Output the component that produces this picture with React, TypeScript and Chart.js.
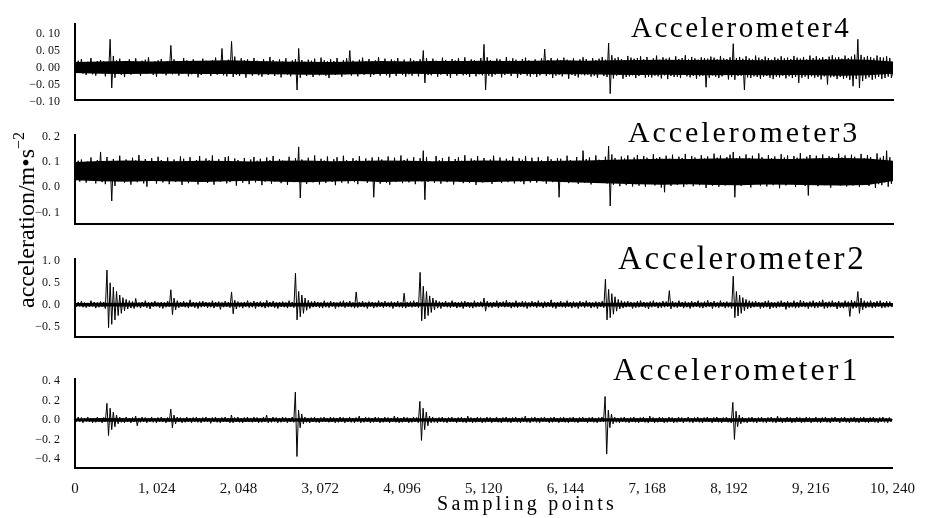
import React, { useEffect, useRef } from "react";
import { Chart, registerables } from "chart.js";

Chart.register(...registerables);

// ---- data ----
// Traces are read every 20 sampling points (alternating crest / trough of the band);
// the dense black core of each band is read every 320 sampling points (upper / lower edge).
const SAMPLE_STEP = 20;
const CORE_STEP = 320;

const xTicks = [0, 1024, 2048, 3072, 4096, 5120, 6144, 7168, 8192, 9216, 10240];
const xTickLabels = ["0", "1, 024", "2, 048", "3, 072", "4, 096", "5, 120", "6, 144", "7, 168", "8, 192", "9, 216", "10, 240"];

const seriesNames = ["Accelerometer4", "Accelerometer3", "Accelerometer2", "Accelerometer1"];

const acc4 = [
  .008,-.014,.020,-.012,.025,-.018,.015,-.022,.017,-.011,.028,-.020,.013,-.024,.019,-.016,
  .022,-.013,.018,-.026,.014,-.019,.083,-.060,.034,-.030,.021,-.017,.026,-.022,.015,-.028,
  .019,-.015,.024,-.021,.012,-.018,.027,-.014,.016,-.025,.020,-.012,.023,-.019,.030,-.016,
  .014,-.022,.018,-.027,.021,-.013,.025,-.018,.016,-.023,.019,-.015,.065,-.020,.024,-.017,
  .018,-.024,.013,-.019,.028,-.016,.021,-.026,.015,-.020,.024,-.013,.019,-.029,.017,-.022,
  .026,-.015,.020,-.018,.014,-.025,.022,-.017,.029,-.021,.016,-.014,.056,-.023,.019,-.026,
  .023,-.018,.077,-.028,.032,-.022,.018,-.025,.027,-.016,.021,-.030,.024,-.019,.015,-.024,
  .028,-.017,.020,-.023,.016,-.027,.025,-.014,.019,-.022,.031,-.018,.022,-.025,.017,-.020,
  .024,-.029,.018,-.016,.027,-.021,.014,-.026,.021,-.018,.025,-.066,.056,-.030,.022,-.019,
  .017,-.025,.023,-.014,.020,-.028,.026,-.019,.015,-.023,.029,-.017,.021,-.024,.018,-.031,
  .024,-.016,.019,-.022,.028,-.018,.016,-.027,.022,-.020,.027,-.015,.050,-.024,.020,-.018,
  .015,-.026,.023,-.019,.029,-.021,.018,-.014,.025,-.028,.017,-.022,.021,-.017,.030,-.024,
  .019,-.016,.026,-.023,.014,-.029,.024,-.018,.020,-.025,.028,-.015,.017,-.022,.023,-.027,
  .016,-.020,.027,-.024,.021,-.016,.018,-.026,.024,-.019,.050,-.045,.028,-.022,.019,-.023,
  .026,-.018,.020,-.027,.015,-.021,.029,-.017,.022,-.025,.018,-.030,.025,-.016,.021,-.024,
  .027,-.019,.017,-.023,.030,-.022,.019,-.028,.024,-.017,.021,-.026,.016,-.020,.028,-.023,
  .068,-.066,.030,-.024,.022,-.027,.019,-.021,.026,-.018,.024,-.029,.017,-.022,.031,-.019,
  .020,-.025,.027,-.016,.023,-.030,.018,-.022,.025,-.019,.029,-.024,.021,-.027,.016,-.020,
  .024,-.028,.019,-.023,.027,-.017,.054,-.025,.022,-.020,.028,-.031,.018,-.024,.026,-.021,
  .021,-.026,.029,-.018,.023,-.033,.020,-.022,.027,-.025,.017,-.029,.024,-.020,.030,-.023,
  .025,-.021,.019,-.027,.028,-.024,.022,-.030,.026,-.019,.031,-.025,.023,-.028,.072,-.077,
  .036,-.032,.027,-.024,.030,-.021,.025,-.033,.022,-.028,.034,-.026,.029,-.023,.026,-.031,
  .028,-.025,.033,-.022,.024,-.030,.031,-.027,.021,-.029,.027,-.024,.035,-.026,.023,-.032,
  .030,-.023,.026,-.034,.029,-.025,.022,-.028,.033,-.027,.025,-.031,.028,-.022,.036,-.026,
  .024,-.029,.031,-.025,.027,-.033,.023,-.026,.030,-.024,.028,-.058,.026,-.030,.032,-.023,
  .029,-.027,.024,-.031,.034,-.026,.027,-.022,.025,-.035,.030,-.028,.070,-.036,.028,-.025,
  .031,-.024,.026,-.066,.033,-.029,.027,-.031,.024,-.026,.035,-.028,.029,-.033,.025,-.027,
  .032,-.025,.028,-.030,.023,-.034,.030,-.027,.026,-.029,.033,-.024,.027,-.032,.029,-.026,
  .025,-.031,.034,-.028,.029,-.045,.026,-.030,.031,-.027,.024,-.033,.035,-.026,.028,-.030,
  .033,-.028,.027,-.035,.030,-.026,.025,-.050,.032,-.029,.036,-.027,.029,-.034,.031,-.028,
  .026,-.033,.035,-.030,.028,-.036,.032,-.055,.038,-.034,.083,-.060,.037,-.040,.030,-.033,
  .034,-.029,.031,-.036,.027,-.032,.035,-.028,.030,-.034,.029,-.031,.033,-.027,.028,-.030,
  -.012,
];
const acc4CoreHi = [
  .016,.018,.019,.018,.019,.020,.021,.019,.018,.017,.016,.018,.019,.018,.019,.019,.020,
  .019,.020,.021,.020,.021,.022,.023,.022,.023,.022,.021,.022,.023,.024,.023,.018,
];
const acc4CoreLo = [
  -.016,-.018,-.019,-.018,-.018,-.019,-.019,-.020,-.020,-.021,-.021,-.020,-.019,-.018,-.019,-.019,-.019,
  -.018,-.019,-.020,-.020,-.021,-.022,-.021,-.022,-.023,-.022,-.023,-.022,-.023,-.024,-.023,-.018,
];

const acc3 = [
  .098,.030,.105,.022,.110,.035,.096,.018,.102,.028,.118,.026,.092,.015,.108,.032,
  .140,.020,.095,.012,.120,.028,.100,-.055,.112,.005,.104,.024,.125,.030,.098,.018,
  .110,.034,.093,.010,.117,.027,.106,.020,.128,.031,.099,.015,.112,.002,.103,.025,
  .115,.033,.097,.014,.121,.029,.108,.019,.100,.035,.118,.012,.095,.026,.110,.021,
  .104,.030,.122,.009,.113,.028,.101,.016,.119,.024,.097,.034,.108,.011,.124,.022,
  .096,.027,.114,.017,.107,.025,.126,.010,.098,.029,.111,.021,.104,.035,.119,.015,
  .123,.020,.096,.027,.114,.006,.108,.030,.101,.018,.116,.024,.097,.012,.110,.032,
  .120,.019,.105,.026,.113,.008,.099,.022,.118,.030,.107,.014,.124,.022,.095,.028,
  .112,.016,.106,.031,.098,.009,.121,.025,.103,.020,.115,.027,.160,-.043,.110,.024,
  .099,.013,.117,.028,.104,.019,.126,.023,.100,.011,.113,.030,.106,.017,.122,.026,
  .097,.021,.111,.008,.119,.027,.102,.018,.125,.024,.108,.015,.096,.033,.115,.020,
  .107,.012,.123,.026,.099,.031,.114,.017,.105,.025,.118,-.040,.101,.022,.120,.014,
  .110,.029,.096,.018,.122,.010,.104,.027,.117,.021,.099,.033,.126,.016,.108,.024,
  .113,.019,.101,.028,.119,.012,.097,.025,.115,.023,.145,-.050,.120,.021,.103,.030,
  .098,.017,.124,.026,.107,.014,.116,.031,.100,.020,.121,.024,.096,.011,.112,.028,
  .119,.022,.105,.016,.127,.029,.099,.018,.114,.025,.108,.009,.123,.027,.101,.019,
  .116,.024,.097,.030,.110,.013,.125,.021,.103,.028,.118,.017,.099,.033,.113,.020,
  .106,.026,.121,.015,.098,.029,.115,.022,.109,.012,.124,.027,.100,.019,.117,.025,
  .102,.018,.119,.031,.107,.023,.096,.014,.122,.026,.111,.020,.104,.029,.116,-.040,
  .113,.021,.100,.027,.125,.016,.108,.024,.097,.030,.120,.013,.105,.022,.145,.018,
  .112,.025,.118,.011,.103,.028,.126,.017,.109,.022,.099,.031,.121,.015,.163,-.075,
  .130,.010,.116,.020,.108,.004,.122,.018,.114,.008,.126,.022,.104,.003,.118,.012,
  .128,.006,.111,.019,.124,.002,.117,.014,.106,.021,.131,.007,.115,.016,.120,-.002,
  .109,-.020,.125,.013,.113,.005,.129,.017,.107,.009,.121,.023,.116,.001,.132,.011,
  .110,.015,.124,.004,.118,.020,.105,.008,.127,.012,.114,-.003,.122,.018,.108,.006,
  .133,.014,.117,.002,.126,.019,.110,.007,.120,.011,.129,.016,.140,-.040,.115,.010,
  .123,.005,.112,.021,.130,.009,.116,-.001,.125,.013,.108,.018,.134,.006,.119,.015,
  .111,.003,.127,.017,.115,.008,.122,.020,.106,-.004,.131,.012,.118,.007,.126,.014,
  .109,.019,.124,.001,.117,.010,.135,.016,.113,.005,.121,-.033,.128,.011,.107,.022,
  .125,.004,.116,.013,.130,.008,.112,.018,.123,-.002,.119,.015,.110,.009,.133,.006,
  .118,.020,.126,.003,.114,.011,.129,.007,.121,.017,.108,.001,.132,.014,.115,.010,
  .127,.005,.120,.016,.111,-.003,.134,.012,.117,.008,.124,.019,.145,.002,.119,.013,
  .060,
];
const acc3CoreHi = [
  .100,.104,.106,.104,.103,.105,.104,.102,.105,.106,.103,.104,.106,.105,.103,.104,.106,
  .105,.103,.105,.106,.109,.111,.113,.112,.114,.115,.113,.112,.115,.116,.114,.105,
];
const acc3CoreLo = [
  .028,.024,.022,.025,.023,.021,.024,.026,.022,.020,.023,.025,.021,.023,.024,.022,.020,
  .023,.025,.021,.018,.015,.012,.010,.012,.009,.008,.011,.010,.008,.007,.009,.025,
];

const acc2 = [
  .02,-.05,.06,-.04,.08,-.06,.05,-.07,.04,-.05,.09,-.04,.06,-.08,.05,-.06,
  .07,-.05,.06,-.09,.79,-.53,.50,-.45,.40,-.35,.30,-.25,.22,-.20,.16,-.14,
  .12,-.10,.09,-.08,.07,-.09,.14,-.06,.05,-.08,.06,-.05,.09,-.07,.05,-.10,
  .06,-.05,.08,-.04,.05,-.07,.06,-.09,.05,-.06,.08,-.05,.34,-.23,.15,-.12,
  .09,-.07,.06,-.05,.08,-.06,.05,-.08,.11,-.05,.06,-.07,.05,-.09,.07,-.06,
  .08,-.05,.06,-.07,.05,-.06,.09,-.08,.06,-.05,.07,-.11,.05,-.06,.08,-.05,
  .06,-.07,.29,-.21,.10,-.10,.07,-.06,.05,-.08,.06,-.05,.09,-.07,.05,-.06,
  .08,-.09,.06,-.05,.07,-.06,.05,-.08,.10,-.06,.06,-.05,.08,-.07,.05,-.09,
  .06,-.05,.07,-.06,.05,-.08,.09,-.05,.06,-.07,.72,-.35,.30,-.28,.22,-.20,
  .15,-.13,.10,-.09,.07,-.06,.08,-.05,.06,-.07,.05,-.08,.09,-.06,.05,-.07,
  .08,-.05,.06,-.09,.05,-.06,.07,-.05,.09,-.07,.06,-.05,.08,-.06,.05,-.08,
  .29,-.07,.06,-.05,.08,-.06,.05,-.09,.07,-.05,.06,-.08,.05,-.06,.09,-.05,
  .06,-.07,.08,-.05,.05,-.06,.07,-.09,.06,-.05,.08,-.06,.05,-.07,.26,-.08,
  .06,-.05,.07,-.06,.09,-.05,.06,-.07,.74,-.37,.42,-.33,.30,-.25,.20,-.18,
  .15,-.12,.10,-.08,.07,-.09,.06,-.05,.08,-.06,.05,-.07,.09,-.05,.06,-.08,
  .05,-.06,.07,-.09,.08,-.05,.06,-.07,.05,-.08,.09,-.06,.06,-.05,.07,-.06,
  .15,-.15,.08,-.06,.05,-.07,.06,-.05,.09,-.08,.06,-.05,.07,-.06,.10,-.05,
  .06,-.08,.05,-.06,.09,-.07,.05,-.05,.08,-.06,.07,-.09,.05,-.06,.08,-.05,
  .06,-.07,.09,-.05,.05,-.08,.07,-.06,.06,-.05,.11,-.07,.05,-.09,.06,-.05,
  .08,-.06,.05,-.07,.09,-.05,.06,-.08,.07,-.06,.05,-.09,.08,-.05,.06,-.07,
  .09,-.05,.06,-.08,.05,-.06,.07,-.09,.06,-.05,.08,-.07,.58,-.35,.35,-.30,
  .25,-.22,.18,-.15,.12,-.10,.09,-.08,.07,-.06,.08,-.05,.06,-.09,.05,-.07,
  .08,-.06,.09,-.05,.06,-.07,.05,-.10,.07,-.06,.09,-.05,.06,-.08,.05,-.07,
  .08,-.06,.07,-.05,.32,-.10,.08,-.06,.05,-.07,.09,-.05,.06,-.08,.07,-.06,
  .05,-.09,.08,-.06,.06,-.05,.09,-.07,.05,-.08,.07,-.06,.10,-.05,.06,-.09,
  .08,-.06,.05,-.07,.09,-.05,.06,-.08,.07,-.06,.05,-.09,.65,-.30,.30,-.26,
  .22,-.20,.16,-.14,.12,-.10,.09,-.08,.07,-.06,.08,-.05,.06,-.09,.05,-.07,
  .08,-.06,.09,-.10,.06,-.07,.05,-.08,.07,-.06,.09,-.05,.06,-.11,.08,-.07,
  .05,-.06,.09,-.08,.06,-.07,.10,-.05,.08,-.06,.05,-.09,.07,-.06,.09,-.08,
  .06,-.07,.08,-.05,.11,-.09,.06,-.08,.07,-.06,.09,-.05,.06,-.10,.08,-.07,
  .05,-.08,.09,-.06,.07,-.27,.10,-.09,.08,-.07,.30,-.20,.15,-.12,.09,-.08,
  .07,-.06,.09,-.08,.06,-.07,.08,-.05,.09,-.08,.06,-.07,.08,-.06,.07,-.05,
  -.03,
];
const acc2CoreHi = [
  .035,.045,.045,.040,.045,.040,.045,.040,.045,.045,.040,.045,.040,.045,.040,.045,.040,
  .045,.040,.045,.040,.045,.045,.040,.045,.040,.045,.045,.045,.040,.045,.045,.035,
];
const acc2CoreLo = [
  -.035,-.045,-.045,-.040,-.045,-.040,-.045,-.040,-.045,-.045,-.040,-.045,-.040,-.045,-.040,-.045,-.040,
  -.045,-.040,-.045,-.040,-.045,-.045,-.040,-.045,-.040,-.045,-.045,-.045,-.040,-.045,-.045,-.035,
];

const acc1 = [
  .010,-.020,.030,-.020,.025,-.030,.020,-.015,.030,-.020,.020,-.030,.015,-.025,.030,-.020,
  .020,-.030,.025,-.020,.170,-.160,.120,-.100,.080,-.070,.050,-.040,.030,-.025,.020,-.030,
  .030,-.020,.020,-.030,.025,-.020,.040,-.060,.020,-.025,.030,-.020,.025,-.030,.020,-.020,
  .030,-.025,.020,-.030,.025,-.020,.030,-.020,.020,-.030,.025,-.020,.110,-.080,.050,-.040,
  .030,-.020,.025,-.030,.020,-.025,.030,-.020,.020,-.030,.025,-.020,.030,-.025,.020,-.030,
  .025,-.020,.030,-.020,.020,-.035,.025,-.020,.030,-.025,.020,-.030,.025,-.020,.030,-.020,
  .020,-.030,.050,-.030,.025,-.020,.030,-.025,.020,-.030,.025,-.020,.030,-.020,.020,-.025,
  .030,-.020,.025,-.030,.020,-.025,.030,-.020,.050,-.030,.020,-.025,.030,-.020,.025,-.030,
  .020,-.025,.030,-.020,.025,-.030,.020,-.020,.030,-.025,.285,-.375,.100,-.080,.060,-.040,
  .030,-.025,.020,-.030,.025,-.020,.030,-.025,.020,-.030,.025,-.020,.030,-.020,.020,-.025,
  .030,-.020,.025,-.030,.020,-.025,.030,-.020,.025,-.030,.020,-.020,.030,-.025,.020,-.030,
  .025,-.020,.040,-.030,.020,-.025,.030,-.020,.025,-.030,.020,-.025,.030,-.020,.025,-.030,
  .020,-.025,.030,-.020,.025,-.030,.020,-.020,.040,-.025,.030,-.030,.020,-.025,.030,-.020,
  .025,-.030,.020,-.025,.030,-.020,.025,-.030,.190,-.210,.120,-.100,.080,-.060,.040,-.030,
  .030,-.025,.020,-.030,.025,-.020,.030,-.025,.020,-.030,.025,-.020,.030,-.020,.020,-.030,
  .025,-.020,.030,-.025,.020,-.030,.040,-.020,.025,-.030,.020,-.025,.030,-.020,.025,-.030,
  .020,-.025,.030,-.020,.025,-.030,.020,-.020,.030,-.025,.020,-.030,.025,-.020,.030,-.025,
  .020,-.030,.025,-.020,.030,-.025,.020,-.030,.025,-.020,.040,-.025,.020,-.030,.025,-.020,
  .030,-.025,.020,-.030,.025,-.020,.030,-.020,.020,-.030,.025,-.025,.030,-.020,.020,-.030,
  .025,-.020,.030,-.025,.020,-.030,.025,-.020,.030,-.025,.020,-.030,.025,-.020,.030,-.020,
  .020,-.030,.025,-.020,.030,-.025,.020,-.030,.025,-.020,.030,-.020,.240,-.350,.100,-.080,
  .060,-.040,.030,-.025,.020,-.030,.025,-.020,.030,-.025,.020,-.030,.025,-.020,.030,-.025,
  .020,-.030,.025,-.020,.030,-.025,.020,-.030,.040,-.020,.025,-.030,.020,-.025,.030,-.020,
  .025,-.030,.020,-.025,.030,-.020,.025,-.030,.020,-.025,.030,-.020,.025,-.030,.020,-.020,
  .030,-.025,.020,-.030,.025,-.020,.030,-.025,.020,-.030,.025,-.020,.030,-.020,.020,-.030,
  .025,-.020,.030,-.025,.020,-.030,.025,-.020,.030,-.025,.020,-.030,.180,-.200,.090,-.070,
  .050,-.040,.030,-.025,.020,-.030,.025,-.020,.030,-.025,.020,-.030,.025,-.020,.030,-.025,
  .020,-.030,.025,-.020,.030,-.025,.020,-.030,.040,-.020,.025,-.030,.020,-.025,.030,-.020,
  .025,-.030,.020,-.025,.030,-.020,.025,-.030,.020,-.025,.030,-.020,.025,-.030,.020,-.020,
  .030,-.025,.020,-.030,.025,-.020,.030,-.025,.020,-.030,.025,-.020,.030,-.020,.020,-.030,
  .025,-.020,.030,-.025,.020,-.030,.025,-.020,.030,-.025,.020,-.030,.025,-.020,.030,-.025,
  .020,-.030,.025,-.020,.030,-.025,.020,-.030,.025,-.020,.030,-.025,.020,-.030,.025,-.020,
  .010,
];
const acc1CoreHi = [
  .014,.019,.018,.017,.018,.017,.018,.018,.017,.018,.018,.017,.018,.018,.017,.018,.018,
  .018,.017,.018,.018,.017,.018,.018,.017,.018,.018,.017,.018,.018,.017,.018,.014,
];
const acc1CoreLo = [
  -.014,-.019,-.018,-.017,-.018,-.017,-.018,-.018,-.017,-.018,-.018,-.017,-.018,-.018,-.017,-.018,-.018,
  -.018,-.017,-.018,-.018,-.017,-.018,-.018,-.017,-.018,-.018,-.017,-.018,-.018,-.017,-.018,-.014,
];

// y-axis ticks and labels per panel
const acc4Ticks = [-0.1, -0.05, 0, 0.05, 0.1];
const acc4TickLabels = ["\u22120. 10", "\u22120. 05", "0. 00", "0. 05", "0. 10"];
const acc3Ticks = [-0.1, 0, 0.1, 0.2];
const acc3TickLabels = ["\u22120. 1", "0. 0", "0. 1", "0. 2"];
const acc2Ticks = [-0.5, 0, 0.5, 1.0];
const acc2TickLabels = ["\u22120. 5", "0. 0", "0. 5", "1. 0"];
const acc1Ticks = [-0.4, -0.2, 0, 0.2, 0.4];
const acc1TickLabels = ["\u22120. 4", "\u22120. 2", "0. 0", "0. 2", "0. 4"];

// axis limits per panel
const acc4Range = [-0.0949, 0.1273];
const acc3Range = [-0.1455, 0.2065];
const acc2Range = [-0.737, 1.04];
const acc1Range = [-0.493, 0.4175];

const X_MAX = 10240;

const FONT = "'Liberation Serif', 'Times New Roman', serif";
const PAD = 10;

type PanelProps = {
  values: number[];
  coreHi: number[];
  coreLo: number[];
  range: number[];
  ticks: number[];
  tickLabels: string[];
  areaTop: number;
  areaBottom: number;
  showX: boolean;
};

function Panel({ values, coreHi, coreLo, range, ticks, tickLabels, areaTop, areaBottom, showX }: PanelProps) {
  const ref = useRef<HTMLCanvasElement | null>(null);
  const xH = showX ? 40 : 0;
  const height = areaBottom - areaTop + PAD + (showX ? xH : PAD);
  useEffect(() => {
    const canvas = ref.current;
    if (!canvas) return;
    const chart = new Chart(canvas, {
      type: "line",
      data: {
        datasets: [
          {
            label: "trace",
            data: values.map((v, i) => ({ x: i * SAMPLE_STEP, y: v })),
            borderColor: "#000",
            borderWidth: 1,
            pointRadius: 0,
            tension: 0,
            fill: false,
            order: 0,
          },
          {
            label: "core low",
            data: coreLo.map((v, i) => ({ x: i * CORE_STEP, y: v })),
            borderColor: "rgba(0,0,0,0)",
            borderWidth: 0,
            pointRadius: 0,
            tension: 0,
            fill: false,
            order: 2,
          },
          {
            label: "core high",
            data: coreHi.map((v, i) => ({ x: i * CORE_STEP, y: v })),
            borderColor: "rgba(0,0,0,0)",
            backgroundColor: "#000",
            borderWidth: 0,
            pointRadius: 0,
            tension: 0,
            fill: "-1",
            order: 1,
          },
        ],
      },
      options: {
        animation: false,
        responsive: false,
        devicePixelRatio: 1,
        events: [],
        plugins: { legend: { display: false }, tooltip: { enabled: false } },
        layout: { padding: { top: PAD, bottom: showX ? 0 : PAD, left: 0, right: 34 } },
        scales: {
          x: {
            type: "linear",
            min: 0,
            max: X_MAX,
            grid: { display: false, drawTicks: false },
            border: { display: true, color: "#000", width: 2 },
            ticks: {
              display: showX,
              padding: 12,
              color: "#111",
              maxRotation: 0,
              autoSkip: false,
              font: { family: FONT, size: 15 },
              callback: (_v: any, i: number) => xTickLabels[i],
            },
            afterBuildTicks: (s: any) => {
              s.ticks = xTicks.map((v) => ({ value: v }));
            },
            afterFit: (s: any) => {
              s.height = xH;
            },
          },
          y: {
            type: "linear",
            min: range[0],
            max: range[1],
            grid: { display: false, drawTicks: false },
            border: { display: true, color: "#000", width: 2 },
            ticks: {
              padding: 15,
              color: "#111",
              font: { family: FONT, size: 12 },
              callback: (_v: any, i: number) => tickLabels[i],
            },
            afterBuildTicks: (s: any) => {
              s.ticks = ticks.map((v) => ({ value: v }));
            },
            afterFit: (s: any) => {
              s.width = 75;
            },
          },
        },
      } as any,
    });
    return () => chart.destroy();
  }, []);
  return (
    <canvas
      ref={ref}
      width={927}
      height={height}
      style={{ position: "absolute", left: 0, top: areaTop - PAD, width: 927, height, display: "block" }}
    />
  );
}

function Title({ text, left, baseline, size, spacing }: { text: string; left: number; baseline: number; size: number; spacing: number }) {
  return (
    <div
      style={{
        position: "absolute",
        left,
        top: baseline - 0.8375 * size,
        fontFamily: FONT,
        fontSize: size,
        lineHeight: 1,
        letterSpacing: spacing,
        whiteSpace: "nowrap",
        color: "#000",
      }}
    >
      {text}
    </div>
  );
}

export default function App() {
  return (
    <div style={{ position: "fixed", left: 0, top: 0, width: 927, height: 518, background: "#fff", overflow: "hidden" }}>
      <Panel values={acc4} coreHi={acc4CoreHi} coreLo={acc4CoreLo} range={acc4Range} ticks={acc4Ticks} tickLabels={acc4TickLabels} areaTop={12} areaBottom={112} showX={false} />
      <Panel values={acc3} coreHi={acc3CoreHi} coreLo={acc3CoreLo} range={acc3Range} ticks={acc3Ticks} tickLabels={acc3TickLabels} areaTop={123} areaBottom={236} showX={false} />
      <Panel values={acc2} coreHi={acc2CoreHi} coreLo={acc2CoreLo} range={acc2Range} ticks={acc2Ticks} tickLabels={acc2TickLabels} areaTop={247} areaBottom={349} showX={false} />
      <Panel values={acc1} coreHi={acc1CoreHi} coreLo={acc1CoreLo} range={acc1Range} ticks={acc1Ticks} tickLabels={acc1TickLabels} areaTop={367} areaBottom={468} showX={true} />

      <Title text={seriesNames[0]} left={631} baseline={37} size={29} spacing={2.5} />
      <Title text={seriesNames[1]} left={628} baseline={142} size={30} spacing={2.9} />
      <Title text={seriesNames[2]} left={618} baseline={270} size={33} spacing={2.7} />
      <Title text={seriesNames[3]} left={613} baseline={380} size={32} spacing={3.1} />

      <div
        style={{
          position: "absolute",
          left: 14,
          top: 308,
          transformOrigin: "0 0",
          transform: "rotate(-90deg)",
          fontFamily: FONT,
          fontSize: 24,
          lineHeight: 1,
          whiteSpace: "nowrap",
          color: "#000",
        }}
      >
        acceleration/m{"\u2022"}s
        <span style={{ fontSize: 16, position: "relative", top: -10 }}>{"\u2212"}2</span>
      </div>

      <div
        style={{
          position: "absolute",
          left: 437,
          top: 510 - 0.8375 * 20,
          fontFamily: FONT,
          fontSize: 20,
          lineHeight: 1,
          letterSpacing: 3.3,
          whiteSpace: "nowrap",
          color: "#000",
        }}
      >
        Sampling points
      </div>
    </div>
  );
}
